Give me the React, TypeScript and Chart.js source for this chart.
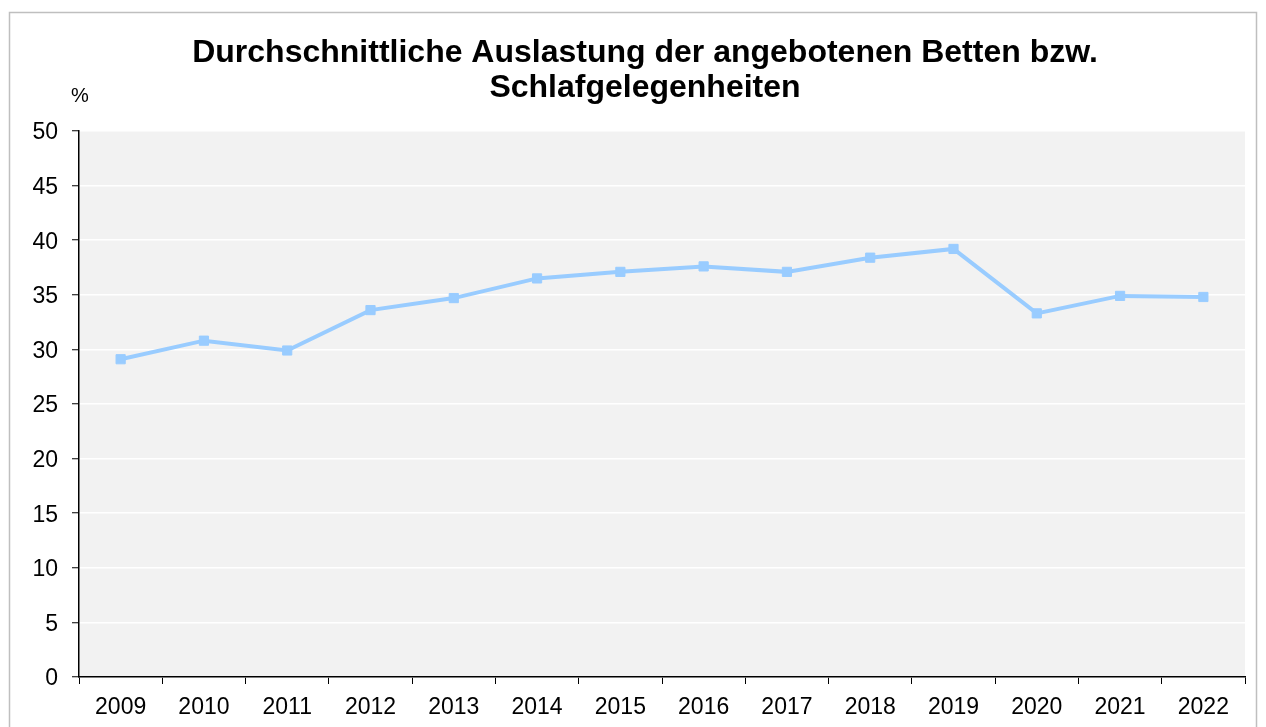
import React, { useEffect, useRef } from "react";
import { Chart, registerables } from "chart.js";

Chart.register(...registerables);

const years = ["2009", "2010", "2011", "2012", "2013", "2014", "2015", "2016", "2017", "2018", "2019", "2020", "2021", "2022"];
const occupancy = [29.1, 30.8, 29.9, 33.6, 34.7, 36.5, 37.1, 37.6, 37.1, 38.4, 39.2, 33.3, 34.9, 34.8];
const titleLines = ["Durchschnittliche Auslastung der angebotenen Betten bzw.", "Schlafgelegenheiten"];
const unitLabel = "%";

const FONT = "'Liberation Sans', Arial, sans-serif";

const decorPlugin = {
  id: "decor",
  beforeDraw(chart: any) {
    const { ctx, chartArea } = chart;
    ctx.save();
    ctx.fillStyle = "#ffffff";
    ctx.fillRect(0, 0, chart.width, chart.height);
    ctx.fillStyle = "#f2f2f2";
    ctx.fillRect(chartArea.left, chartArea.top, chartArea.right - chartArea.left, chartArea.bottom - chartArea.top);
    ctx.strokeStyle = "#bfbfbf";
    ctx.lineWidth = 1.5;
    ctx.strokeRect(9.5, 12.5, 1247, 730);
    ctx.fillStyle = "#000000";
    ctx.textAlign = "center";
    ctx.textBaseline = "alphabetic";
    ctx.font = `bold 32px ${FONT}`;
    ctx.fillText(titleLines[0], 645, 62);
    ctx.fillText(titleLines[1], 645, 97);
    ctx.textAlign = "left";
    ctx.font = `20px ${FONT}`;
    ctx.fillText(unitLabel, 71, 102);
    ctx.restore();
  },
};

export default function App() {
  const ref = useRef<HTMLCanvasElement | null>(null);
  useEffect(() => {
    if (!ref.current) return;
    const chart = new Chart(ref.current, {
      type: "line",
      data: {
        labels: years,
        datasets: [
          {
            data: occupancy,
            borderColor: "#99ccff",
            backgroundColor: "#99ccff",
            borderWidth: 4,
            pointStyle: "rect",
            pointRadius: 6.5,
            pointBorderWidth: 1,
            pointBorderColor: "#99ccff",
            pointBackgroundColor: "#99ccff",
            tension: 0,
          },
        ],
      },
      options: {
        responsive: false,
        animation: false,
        layout: { padding: { left: 0, top: 131, right: 21, bottom: 0 } },
        plugins: { legend: { display: false }, title: { display: false }, tooltip: { enabled: false } },
        scales: {
          x: {
            type: "category",
            offset: true,
            afterFit: (s: any) => { s.height = 50; },
            grid: { display: true, drawOnChartArea: false, offset: true, tickLength: 7, tickColor: "#000000", tickWidth: 1 },
            border: { display: true, color: "#000000", width: 1.5 },
            ticks: { color: "#000000", font: { family: FONT, size: 23 }, padding: 10, maxRotation: 0, autoSkip: false },
          },
          y: {
            min: 0,
            max: 50,
            afterFit: (s: any) => { s.width = 79; },
            grid: { color: "#ffffff", lineWidth: 1.5, tickLength: 7, tickColor: "#000000", tickWidth: 1 },
            border: { display: true, color: "#000000", width: 1.5 },
            ticks: { stepSize: 5, color: "#000000", font: { family: FONT, size: 23 }, padding: 14, labelOffset: 2 },
          },
        },
      },
      plugins: [decorPlugin],
    });
    return () => chart.destroy();
  }, []);
  return (
    <div style={{ position: "fixed", left: 0, top: 0, width: 1266, height: 727, background: "#fff" }}>
      <canvas ref={ref} width={1266} height={727} style={{ display: "block" }} />
    </div>
  );
}
